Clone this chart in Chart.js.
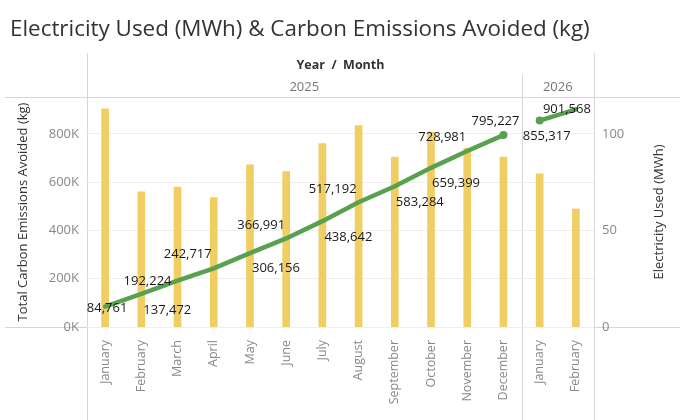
<!DOCTYPE html>
<html>
<head>
<meta charset="utf-8">
<script src="https://cdn.jsdelivr.net/npm/chart.js@4.4.1/dist/chart.umd.min.js"></script>
<style>
  html, body { margin: 0; padding: 0; background: #fff; }
  #wrap { width: 680px; height: 420px; }
</style>
</head>
<body>
<div id="wrap"><canvas id="chart" width="680" height="420"></canvas></div>
<script>
// data
const months = ['January', 'February', 'March', 'April', 'May', 'June', 'July',
	'August', 'September', 'October', 'November', 'December', 'January', 'February'];
const years = ['2025', '2025', '2025', '2025', '2025', '2025', '2025',
	'2025', '2025', '2025', '2025', '2025', '2026', '2026'];
const electricityMWh = [113, 70, 72.5, 67, 84, 80.5, 95, 104.3, 88, 101, 92.6, 88, 79.3, 61.1];
const carbonKg = [84761, 137472, 192224, 242717, 306156, 366991, 438642,
	517192, 583284, 659399, 728981, 795227, 855317, 901568];
const carbonTicks = [0, 200000, 400000, 600000, 800000];
const electricityTicks = [0, 50, 100];

const TITLE = 'Electricity Used (MWh) & Carbon Emissions Avoided (kg)';
const FONT = '"Open Sans", "Noto Sans", sans-serif';
const GREEN = '#59A14F';
const YELLOW = '#F1CE63';
const RULE = '#d6d6d6';

// both axes share one pixel scale: 800K kg <-> 100 MWh
const carbonMax = 953000;
const kgPerMWh = 8000;

// where each value label sits relative to its point (dx, dy)
const labelOffsets = [
	[2, 2], [26, 16], [-30, 1], [-26, -14], [26, 15], [-25, -13], [26, 16],
	[-26, -13], [25, 16], [25, 15], [-25, -14], [-8, -14], [7, 16], [-9, 0]
];

const isYearBreak = i => i >= 0 && i < years.length - 1 && years[i] !== years[i + 1];

const frame = {
	id: 'frame',
	beforeDraw(chart) {
		const { ctx, chartArea: a, scales } = chart;
		const W = chart.width, H = chart.height;
		ctx.save();

		ctx.fillStyle = '#333';
		ctx.font = '22.4px ' + FONT;
		ctx.textAlign = 'left';
		ctx.textBaseline = 'alphabetic';
		ctx.fillText(TITLE, 10, 36);

		ctx.strokeStyle = RULE;
		ctx.lineWidth = 1;
		ctx.beginPath();
		ctx.moveTo(5, a.top + 0.5); ctx.lineTo(W, a.top + 0.5);
		ctx.moveTo(5, a.bottom + 0.5); ctx.lineTo(W, a.bottom + 0.5);
		ctx.moveTo(a.left + 0.5, 53); ctx.lineTo(a.left + 0.5, H);
		ctx.moveTo(a.right + 0.5, 53); ctx.lineTo(a.right + 0.5, H);
		ctx.stroke();

		ctx.fillStyle = '#333';
		ctx.font = 'bold 12.5px ' + FONT;
		ctx.textAlign = 'center';
		ctx.textBaseline = 'middle';
		ctx.fillText('Year  /  Month', (a.left + a.right) / 2, 65);

		// year panes
		const x = scales.x;
		let start = a.left;
		for (let i = 0; i < years.length; i++) {
			if (i === years.length - 1 || isYearBreak(i)) {
				let end = a.right;
				if (i < years.length - 1) {
					end = (x.getPixelForValue(i) + x.getPixelForValue(i + 1)) / 2;
					ctx.strokeStyle = RULE;
					ctx.beginPath();
					ctx.moveTo(Math.round(end) + 0.5, 75);
					ctx.lineTo(Math.round(end) + 0.5, H);
					ctx.stroke();
				}
				ctx.fillStyle = '#777';
				ctx.font = '13px ' + FONT;
				ctx.fillText(years[i], (start + end) / 2, 87);
				start = end;
			}
		}

		// axis titles
		ctx.fillStyle = '#333';
		ctx.font = '13px ' + FONT;
		const mid = (a.top + a.bottom) / 2;
		ctx.translate(23, mid);
		ctx.rotate(-Math.PI / 2);
		ctx.fillText('Total Carbon Emissions Avoided (kg)', 0, 0);
		ctx.rotate(Math.PI / 2);
		ctx.translate(-23, -mid);
		ctx.translate(659, mid);
		ctx.rotate(-Math.PI / 2);
		ctx.fillText('Electricity Used (MWh)', 0, 0);
		ctx.restore();
	}
};

const valueLabels = {
	id: 'valueLabels',
	afterDatasetsDraw(chart) {
		const { ctx } = chart;
		const meta = chart.getDatasetMeta(1);
		ctx.save();
		ctx.fillStyle = '#1a1a1a';
		ctx.font = '13px ' + FONT;
		ctx.textAlign = 'center';
		ctx.textBaseline = 'middle';
		meta.data.forEach((pt, i) => {
			const [dx, dy] = labelOffsets[i];
			ctx.fillText(carbonKg[i].toLocaleString('en-US'), pt.x + dx, pt.y + dy);
		});
		ctx.restore();
	}
};

new Chart(document.getElementById('chart').getContext('2d'), {
	type: 'bar',
	data: {
		labels: months,
		datasets: [{
			type: 'bar',
			label: 'Electricity Used (MWh)',
			data: electricityMWh,
			yAxisID: 'y2',
			backgroundColor: YELLOW,
			barThickness: 7,
			order: 2
		}, {
			type: 'line',
			label: 'Total Carbon Emissions Avoided (kg)',
			data: carbonKg,
			yAxisID: 'y',
			borderColor: GREEN,
			backgroundColor: GREEN,
			borderWidth: 4.5,
			borderCapStyle: 'round',
			pointRadius: ctx => (isYearBreak(ctx.dataIndex) || isYearBreak(ctx.dataIndex - 1)) ? 4 : 0,
			pointBorderWidth: 0,
			segment: {
				borderColor: ctx => isYearBreak(ctx.p0DataIndex) ? 'rgba(0,0,0,0)' : GREEN
			},
			order: 1
		}]
	},
	options: {
		responsive: false,
		animation: false,
		layout: { padding: { top: 97, left: 0, right: 0, bottom: 0 } },
		plugins: {
			legend: { display: false },
			tooltip: { enabled: false }
		},
		scales: {
			x: {
				grid: { display: false },
				border: { display: false },
				afterFit: s => { s.height = 93; },
				ticks: {
					autoSkip: false,
					minRotation: 90,
					maxRotation: 90,
					padding: 5,
					color: '#888',
					font: { family: FONT, size: 12.5 }
				}
			},
			y: {
				position: 'left',
				min: 0,
				max: carbonMax,
				afterFit: s => { s.width = 87; },
				afterBuildTicks: s => { s.ticks = carbonTicks.map(v => ({ value: v })); },
				grid: { color: '#eeeeee', drawTicks: false },
				border: { display: false },
				ticks: {
					padding: 8,
					color: '#888',
					font: { family: FONT, size: 13 },
					callback: v => (v / 1000) + 'K'
				}
			},
			y2: {
				position: 'right',
				min: 0,
				max: carbonMax / kgPerMWh,
				afterFit: s => { s.width = 86; },
				afterBuildTicks: s => { s.ticks = electricityTicks.map(v => ({ value: v })); },
				grid: { display: false, drawTicks: false },
				border: { display: false },
				ticks: {
					padding: 8,
					color: '#888',
					font: { family: FONT, size: 13 }
				}
			}
		}
	},
	plugins: [frame, valueLabels]
});
</script>
</body>
</html>
